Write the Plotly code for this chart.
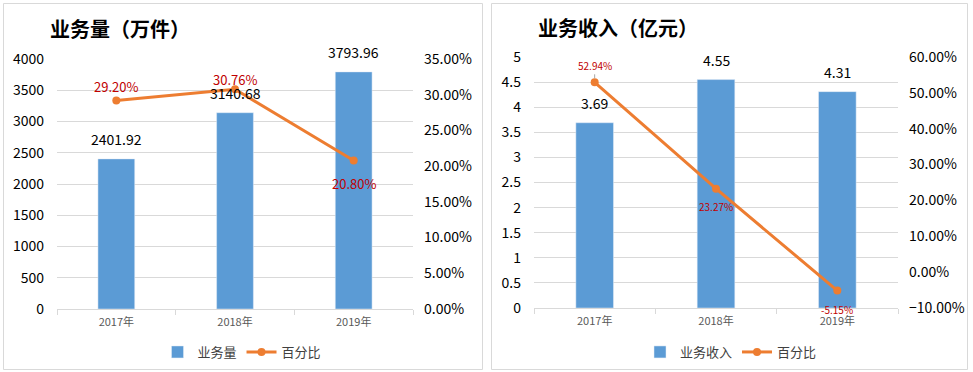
import plotly.graph_objects as go

years = ["2017年", "2018年", "2019年"]
volume = [2401.92, 3140.68, 3793.96]
volume_pct = [0.2920, 0.3076, 0.2080]
revenue = [3.69, 4.55, 4.31]
revenue_pct = [0.5294, 0.2327, -0.0515]

W, H = 973, 372
BAR = "#5B9BD5"
LINE = "#ED7D31"
RED = "#C00000"
GRID = "#D9D9D9"
FONT = "Noto Sans CJK SC, Microsoft YaHei, sans-serif"

def px(x):
    return x / W

def py(y):
    return 1 - y / H

fig = go.Figure()

fig.add_trace(go.Bar(x=years, y=volume, marker_color=BAR, width=0.31, name="业务量",
                     xaxis="x", yaxis="y", legend="legend"))
fig.add_trace(go.Scatter(x=years, y=volume_pct, mode="lines+markers", name="百分比",
                         line=dict(color=LINE, width=3), marker=dict(size=8, color=LINE),
                         xaxis="x", yaxis="y2", legend="legend"))
fig.add_trace(go.Bar(x=years, y=revenue, marker_color=BAR, width=0.31, name="业务收入",
                     xaxis="x2", yaxis="y3", legend="legend2"))
fig.add_trace(go.Scatter(x=years, y=revenue_pct, mode="lines+markers", name="百分比",
                         line=dict(color=LINE, width=3), marker=dict(size=8, color=LINE),
                         xaxis="x2", yaxis="y4", legend="legend2"))

xcommon = dict(type="category", showgrid=False, showline=True, linecolor=GRID, linewidth=1,
               ticks="outside", tickson="boundaries", ticklen=5, tickcolor=GRID,
               tickfont=dict(family=FONT, size=11, color="#595959"), zeroline=False,
               fixedrange=True, automargin=False, ticklabelstandoff=3)
ycommon = dict(showgrid=True, gridcolor=GRID, gridwidth=1, zeroline=False, showline=False,
               tickfont=dict(family=FONT, size=14, color="#000000"), ticks="",
               automargin=False)
y2common = dict(side="right", showgrid=False, zeroline=False, showline=False,
                tickformat=".2%", tickfont=dict(family=FONT, size=14, color="#000000"),
                ticklabelstandoff=10, automargin=False)

L = dict(x0=57, x1=413, y0=59, y1=309)
R = dict(x0=534, x1=898, y0=57, y1=308)

fig.update_layout(
    width=W, height=H, margin=dict(l=0, r=0, t=0, b=0, autoexpand=False),
    paper_bgcolor="white", plot_bgcolor="white",
    font=dict(family=FONT),
    xaxis=dict(xcommon, domain=[px(L["x0"]), px(L["x1"])], anchor="y"),
    yaxis=dict(ycommon, domain=[py(L["y1"]), py(L["y0"])], range=[0, 4000], dtick=500,
               anchor="x", ticklabelstandoff=12),
    yaxis2=dict(y2common, overlaying="y", anchor="x", range=[0, 0.35], dtick=0.05),
    xaxis2=dict(xcommon, domain=[px(R["x0"]), px(R["x1"])], anchor="y3"),
    yaxis3=dict(ycommon, domain=[py(R["y1"]), py(R["y0"])], range=[0, 5], dtick=0.5,
                anchor="x2", ticklabelstandoff=12),
    yaxis4=dict(y2common, overlaying="y3", anchor="x2", range=[-0.10, 0.60], dtick=0.10),
    legend=dict(orientation="h", x=px(242), y=py(352), xanchor="center", yanchor="middle",
                font=dict(family=FONT, size=13, color="#404040"), itemwidth=30,
                bgcolor="rgba(0,0,0,0)"),
    legend2=dict(orientation="h", x=px(731), y=py(352), xanchor="center", yanchor="middle",
                 font=dict(family=FONT, size=13, color="#404040"), itemwidth=30,
                 bgcolor="rgba(0,0,0,0)"),
    showlegend=True,
)

shapes = [
    dict(type="rect", xref="paper", yref="paper", x0=px(3.5), x1=px(482.5), y0=py(369.5), y1=py(3.5),
         line=dict(color=GRID, width=1)),
    dict(type="rect", xref="paper", yref="paper", x0=px(491.5), x1=px(967.5), y0=py(369.5), y1=py(3.5),
         line=dict(color=GRID, width=1)),
]
fig.update_layout(shapes=shapes)

ann = []
ann.append(dict(text="<b>业务量（万件）</b>", xref="paper", yref="paper", x=px(120), y=py(28),
                xanchor="center", yanchor="middle", showarrow=False,
                font=dict(family=FONT, size=20, color="#000000")))
ann.append(dict(text="<b>业务收入（亿元）</b>", xref="paper", yref="paper", x=px(618), y=py(27),
                xanchor="center", yanchor="middle", showarrow=False,
                font=dict(family=FONT, size=20, color="#000000")))

for xv, v in zip(years, volume):
    ann.append(dict(text=f"{v:.2f}", x=xv, y=v, xref="x", yref="y", yanchor="bottom",
                    yshift=8, showarrow=False, font=dict(family=FONT, size=14, color="#000000")))
for xv, v in zip(years, revenue):
    ann.append(dict(text=f"{v:.2f}", x=xv, y=v, xref="x2", yref="y3", yanchor="bottom",
                    yshift=8, showarrow=False, font=dict(family=FONT, size=14, color="#000000")))

vol_shift = [14, 10, -23]
for xv, v, s in zip(years, volume_pct, vol_shift):
    ann.append(dict(text=f"{v*100:.2f}%", x=xv, y=v, xref="x", yref="y2", yanchor="middle",
                    yshift=s, showarrow=False, font=dict(family=FONT, size=13, color=RED)))

rev_shift = [17, -18, -19]
for i, (xv, v, s) in enumerate(zip(years, revenue_pct, rev_shift)):
    if i == 0:
        ann.append(dict(text=f"{v*100:.2f}%", x=xv, y=v, xref="x2", yref="y4",
                        showarrow=True, arrowhead=0, arrowwidth=1, arrowcolor="#A6A6A6",
                        ax=0, ay=-s, standoff=4,
                        font=dict(family=FONT, size=10, color=RED)))
    else:
        ann.append(dict(text=f"{v*100:.2f}%", x=xv, y=v, xref="x2", yref="y4", yanchor="middle",
                        yshift=s, showarrow=False, font=dict(family=FONT, size=10, color=RED)))

fig.update_layout(annotations=ann)
fig.write_html("out.html", config={"displayModeBar": False},
               post_script="document.body.style.margin='0';")
